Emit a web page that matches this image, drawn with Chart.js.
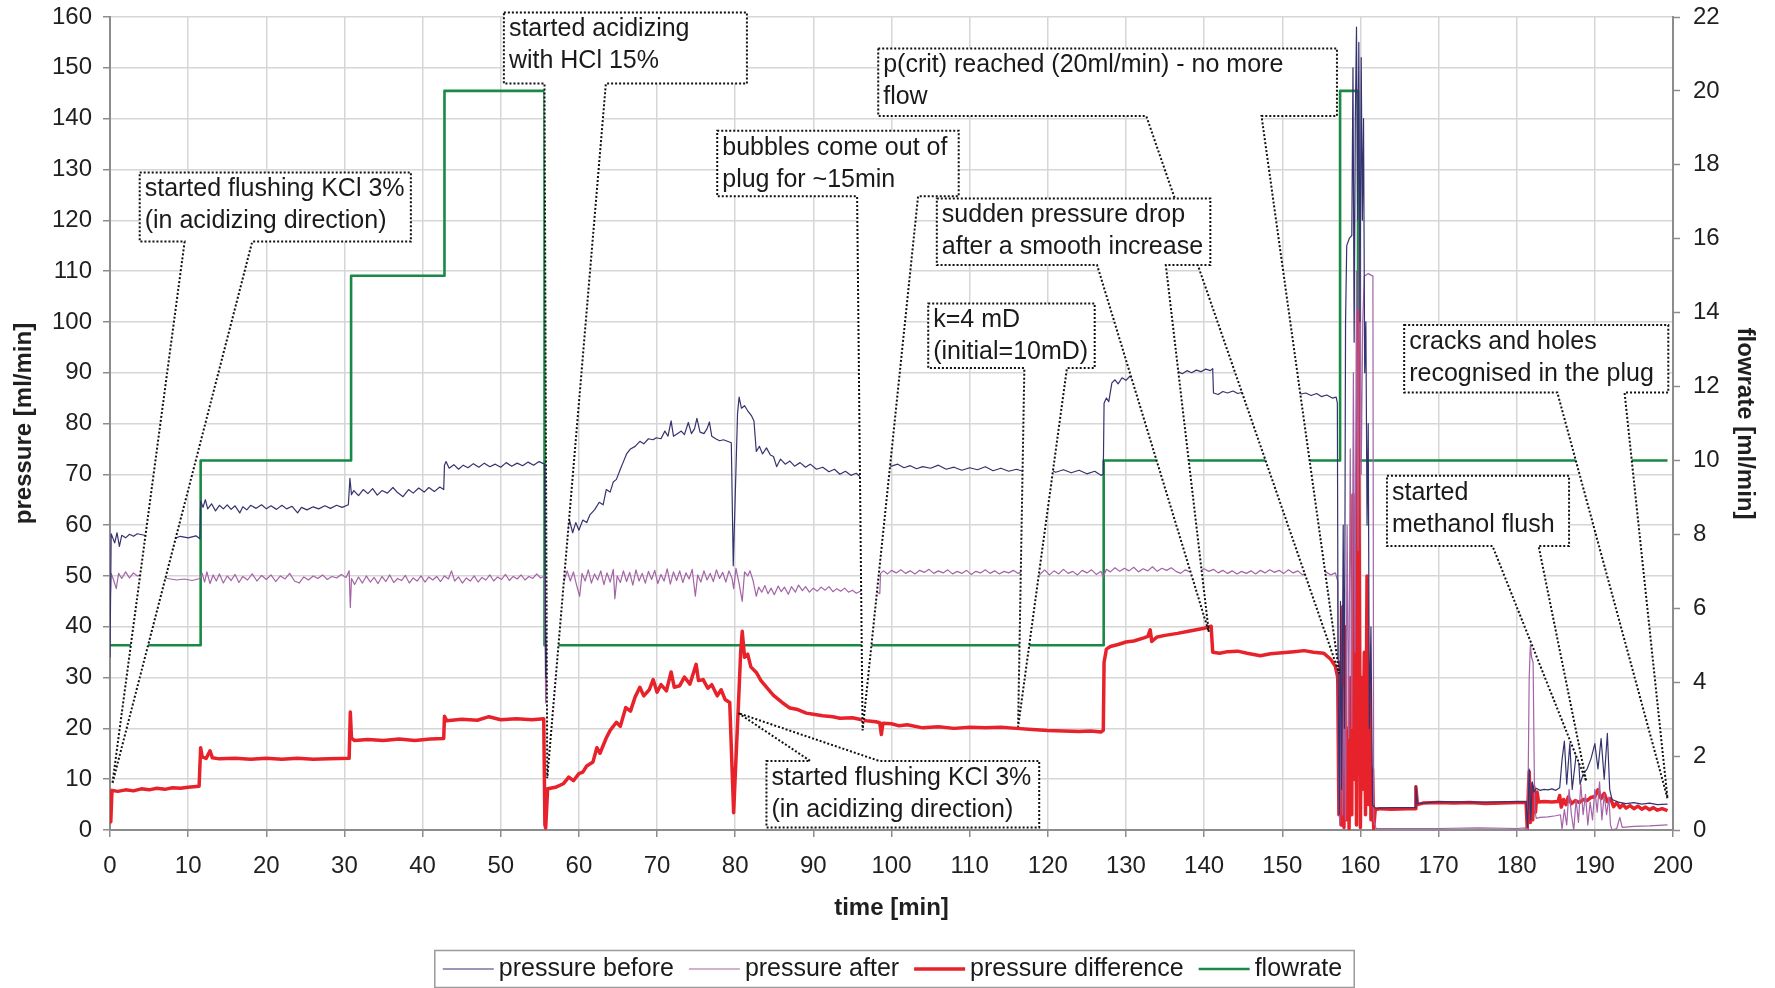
<!DOCTYPE html>
<html>
<head>
<meta charset="utf-8">
<script src="https://cdn.jsdelivr.net/npm/chart.js@4/dist/chart.umd.min.js"></script>
<style>
  body { margin: 0; background: #fff; }
  canvas { display: block; }
</style>
</head>
<body>
<canvas id="acidChart" width="1775" height="988"></canvas>
<script>
// time [min] / value pairs
const pressureBefore = [
  [0,34],[0.15,58.3],[0.6,56.5],[0.9,58.5],[1.2,55.8],[1.5,58],[2,57.5],[2.5,58.2],[3,57.8],[3.5,58.3],[4.4,58],
  [5,57.6],[6,57.8],[7,57.5],[8.3,57.4],[9,57.8],[10,57.5],[11,57.9],[11.5,57.3],[11.6,64.8],[11.9,63.5],[12.2,65],
  [12.5,63.2],[13,64.2],[13.5,62.8],[14,63.9],[14.5,63.2],[15,64],[15.5,63.1],[16,63.8],[16.6,62.4],[17,63.6],
  [17.5,63],[18,63.9],[18.7,63.3],[19.4,64],[20,63.2],[20.6,63.8],[21.3,63.1],[22,63.9],[22.6,63.2],[23.3,63.7],
  [24,62.4],[24.5,63.5],[25.2,63],[26,63.6],[26.7,63.2],[27.5,63.8],[28.2,63.3],[29,63.9],[29.7,63.5],[30.5,64],
  [30.7,69.2],[30.9,66],[31.2,66.8],[31.8,65.8],[32.4,67],[33,66.2],[33.6,67.2],[34.2,65.9],[34.8,66.8],[35.5,66.3],
  [36.2,67.4],[36.8,66.4],[37.5,65.6],[38.2,67],[38.8,66.3],[39.5,67.3],[40.2,66.5],[40.8,67.4],[41.5,66.6],
  [42.2,67.5],[42.7,67],[42.8,71.8],[43,72.5],[43.4,71.2],[44,71.9],[44.6,71],[45.2,71.8],[45.8,71.3],[46.5,72.1],
  [47.2,71.4],[47.9,72.2],[48.6,71.5],[49.3,72],[50,71.4],[50.7,72.3],[51.4,71.6],[52.1,72.2],[52.8,71.7],
  [53.5,72.4],[54.2,71.8],[54.9,72.5],[55.6,72],[55.75,30],[56.2,50],[56.8,57],[57.3,59.5],[57.6,58.5],[58,60],
  [58.4,58],[58.8,61],[59.2,58.5],[59.6,60.5],[60,59],[60.5,61],[61,60.5],[61.4,62],[62,63],[62.6,64.5],[63.1,64],
  [63.5,67],[64,66.5],[64.4,68.5],[64.8,69],[65.3,71],[65.7,72.5],[66.1,74],[66.6,75],[67.2,75.5],[67.8,76.5],
  [68.3,76],[68.9,77],[69.5,76.8],[69.9,77.2],[70.5,77],[71,78.5],[71.4,77.5],[71.8,80.5],[72.1,77.5],[72.6,78],
  [73.1,78.5],[73.5,77.8],[74,80.2],[74.4,78],[74.8,79],[75.1,81],[75.5,78.3],[76,78],[76.4,79],[76.7,80.3],
  [77,77.5],[77.5,77],[78,76.6],[78.5,76.8],[79,76.5],[79.5,76.2],[79.75,52],[79.9,60],[80.3,82],[80.5,85.2],
  [80.8,83],[81.2,83.5],[81.6,82.5],[82.1,81.5],[82.4,80.5],[82.7,74.5],[83.1,75.5],[83.5,74],[84,75.2],
  [84.5,73.8],[84.9,73.5],[85.3,71.5],[85.8,73],[86.4,72],[87,72.6],[87.6,71.6],[88.3,72.3],[89,71.4],[89.6,72],
  [90.4,71],[91.2,71.4],[92,70.5],[92.7,71],[93.4,70],[94.1,70.6],[94.8,69.8],[95.5,70.2],[96,69.5],[97,70.5],
  [98,72],[98.5,72.6],[99.2,71.8],[100,71.6],[100.8,72],[101.6,71.3],[102.4,71.7],[103.2,71.1],[104,71.5],
  [105,71.2],[106,71.8],[107,71],[108,71.4],[109,70.8],[110,71.3],[111,70.9],[112,71.5],[113,70.7],[114,71.2],
  [115,70.6],[116,71],[117,70.5],[118,71],[119,70.6],[120,71.2],[121,70.4],[122,70.9],[123,70.3],[124,70.8],
  [125,70.1],[126,70.6],[126.8,69.8],[127.1,70],[127.2,84],[127.5,85],[127.8,84.3],[128.2,88],[128.6,88.6],
  [129,87.8],[129.5,89],[130,88.5],[130.5,89.3],[131,88.7],[132,89],[133,89.2],[134,89.5],[135,89.8],[136,90],
  [136.6,90.3],[137.2,89.8],[137.8,90.4],[138.4,90],[139,90.5],[139.6,90.2],[140.2,90.7],[140.8,90.4],[141.1,90.8],
  [141.2,86],[141.8,85.7],[142.4,86.3],[143,86],[143.7,86.4],[144.3,85.9],[145,86.2],[146,85.8],[147,86.2],
  [148,86],[149,86.3],[150,86],[151,85.8],[151.7,86.3],[152.4,85.8],[153,86],[153.7,85.5],[154.4,85.9],[155,85.3],
  [155.7,85.6],[156.4,85],[156.9,85.2],[157.05,84],[157.15,30],[157.3,3],[157.45,45],[157.6,8],[157.8,60],
  [157.95,20],[158.1,100],[158.25,115],[158.6,116.5],[158.9,117],[159.05,150],[159.2,96],[159.35,140],[159.5,158],
  [159.65,120],[159.8,155],[159.95,100],[160.1,152],[160.25,120],[160.4,140],[160.55,90],[160.7,100],[160.85,60],
  [161,80],[161.15,20],[161.35,40],[161.55,5],[161.8,4.5],[162,4.3],[164,4.4],[166,4.4],[167,4.4],[167.1,8.7],
  [167.3,5.2],[170,5.6],[175,5.5],[180,5.6],[181.2,5.6],[181.4,0.5],[181.6,12],[181.8,2],[182,9.5],[182.2,7.5],
  [182.5,8.2],[183,7.8],[183.5,8],[184,7.9],[184.5,8.1],[185,7.8],[185.5,8.3],[185.8,13.8],[186.1,17.5],[186.4,9],
  [186.8,17],[187.1,8],[187.4,12],[187.8,17.5],[188.1,9],[188.5,11],[189,12],[189.5,14],[190,17],[190.4,12],
  [190.8,18],[191.2,10],[191.6,19],[191.9,8],[192.2,6],[193,5.5],[194,5.2],[195,5.4],[196,5.1],[197,5.3],
  [198,5],[199.3,5.1]
];

const pressureAfter = [
  [0,44],[0.15,50.5],[0.5,49],[0.8,47.5],[1.1,50.5],[1.5,49.5],[2,50.8],[2.5,49.6],[3,50.6],[3.5,50],[4.4,50.3],
  [5.5,49.8],[7,49.6],[8.5,49.2],[9.5,49.4],[10.5,49.1],[11.5,49.5],[11.8,50.5],[12.1,48.8],[12.4,50.8],
  [12.8,48.5],[13.2,50.2],[13.6,49],[14,50.4],[14.5,48.6],[15,50],[15.5,49.1],[16,50.3],[16.5,48.7],[17,49.9],
  [17.6,49.2],[18.2,50.4],[18.8,49],[19.4,50.1],[20,49.3],[20.6,50.2],[21.2,48.9],[21.8,50],[22.4,49.4],[23,50.5],
  [23.6,49],[24.2,48.6],[24.8,49.8],[25.4,49.2],[26,50],[26.6,49.5],[27.2,50.2],[27.8,49.3],[28.4,49.9],[29,49.6],
  [29.6,50.3],[30.2,49.7],[30.6,51],[30.75,43.8],[30.9,49.5],[31.3,48.3],[31.8,49.8],[32.3,48.6],[32.8,50],
  [33.3,48.8],[33.8,49.7],[34.3,48.5],[34.8,49.9],[35.3,48.9],[35.8,50.2],[36.3,48.7],[36.8,49.5],[37.3,49.1],
  [37.8,50.1],[38.3,48.6],[38.8,49.6],[39.3,49],[39.8,50],[40.3,48.8],[40.8,49.8],[41.3,49.2],[41.8,49.9],
  [42.3,48.9],[42.8,50],[43.3,49.4],[43.7,51],[44.1,49],[44.6,49.8],[45.1,48.6],[45.6,49.6],[46.1,49],[46.6,50],
  [47.1,48.8],[47.6,49.7],[48.1,49.2],[48.6,50.2],[49.1,49],[49.6,49.8],[50.1,49.3],[50.6,50.3],[51.1,49.1],
  [51.6,49.9],[52.1,49.4],[52.6,50.2],[53.1,49.2],[53.6,49.9],[54.1,49.5],[54.6,50.4],[55.1,49.6],[55.6,50],
  [55.75,25],[56.2,45],[56.8,49.5],[57.5,50.5],[58,48.5],[58.5,51],[58.9,49],[59.3,50.8],[59.7,48.2],[60.1,46],
  [60.4,50.5],[60.8,49],[61.2,51.2],[61.6,48.6],[62,50.4],[62.4,49.2],[62.8,51],[63.2,48.3],[63.6,50.6],[64,48.8],
  [64.4,51.3],[64.6,45.5],[64.9,50],[65.3,48.7],[65.7,51],[66.1,48.9],[66.5,50.7],[66.9,48.2],[67.3,51.2],[67.7,49],
  [68.1,50.5],[68.5,48.6],[68.9,50.9],[69.3,49.3],[69.7,51.1],[70.1,48.5],[70.5,50.3],[70.9,49],[71.3,51.4],
  [71.7,48.4],[72.1,50.8],[72.5,49.1],[72.9,51],[73.3,48.7],[73.7,50.6],[74.1,49.4],[74.5,51.3],[74.9,46],
  [75.2,50.2],[75.6,48.8],[76,51],[76.4,49.2],[76.8,50.5],[77.2,48.9],[77.6,51.2],[78,49.5],[78.4,50.7],[78.8,48.8],
  [79.2,51],[79.6,49.5],[79.8,47.5],[80.1,51.5],[80.5,48.5],[80.9,45],[81.2,50.8],[81.6,50],[81.9,51],[82.3,49],
  [82.7,46],[83,47.8],[83.4,46.8],[83.8,48.1],[84.2,46.5],[84.6,47.6],[85,46.3],[85.5,48],[85.9,46.9],[86.3,47.8],
  [86.8,46.4],[87.2,47.9],[87.7,46.8],[88.1,48.2],[88.6,47.1],[89,47.9],[89.5,46.8],[90,47.6],[90.5,47],[91,47.8],
  [91.5,47.2],[92,47.9],[92.5,46.9],[93,47.5],[93.5,47],[94,47.6],[94.5,46.8],[95,47.2],[95.5,46.6],[96,47],
  [97,46.8],[98,47],[98.5,46.5],[98.6,50.5],[99,51],[99.5,50.4],[100,51.1],[100.6,50.6],[101.2,51.2],[101.8,50.5],
  [102.4,51],[103,50.4],[103.6,51.1],[104.2,50.7],[104.8,51.3],[105.4,50.5],[106,51],[106.6,50.6],[107.2,51.2],
  [107.8,50.4],[108.4,50.9],[109,50.5],[109.6,51.1],[110.2,50.3],[110.8,50.9],[111.4,50.6],[112,51.2],[112.6,50.5],
  [113.2,51],[113.8,50.4],[114.4,50.9],[115,50.6],[115.6,51.1],[116.2,50.5],[117,51],[118,50.6],[119,50.3],
  [119.6,51.2],[120.2,50.2],[120.8,51],[121.4,50.4],[122,51.3],[122.6,50.5],[123.2,50.9],[123.8,50.2],[124.4,51.1],
  [125,50.6],[125.6,51.2],[126.2,50.3],[126.8,50.9],[127.1,49.8],[127.5,51.3],[128,50.8],[128.6,51.6],[129.2,50.9],
  [129.8,51.5],[130.4,51],[131,51.7],[131.6,50.8],[132.2,51.4],[132.8,51],[133.4,51.8],[134,50.9],[134.6,51.5],
  [135.2,51.1],[135.8,51.6],[136.4,50.9],[137,50.5],[137.6,51.2],[138.2,50.8],[138.8,51.5],[139.4,51],[140,51.4],
  [140.6,50.9],[141.2,51.3],[141.8,50.6],[142.4,51.1],[143,50.5],[143.6,51],[144.2,50.4],[144.8,50.9],[145.4,50.5],
  [146,51],[146.6,50.4],[147.2,51.1],[147.8,50.6],[148.4,51.2],[149,50.7],[149.6,51.1],[150.2,50.5],[150.8,51.2],
  [151.4,50.6],[152,51],[152.6,50.2],[153.2,50.8],[153.8,50.4],[154.4,50.9],[155,50.3],[155.6,50.8],[156.2,50.2],
  [156.8,50.6],[157.1,49],[157.2,10],[157.35,1],[157.5,35],[157.7,3],[157.9,28],[158.1,2],[158.3,60],[158.5,18],
  [158.7,75],[158.9,20],[159.1,90],[159.3,35],[159.5,110],[159.7,55],[159.9,128],[160.1,70],[160.3,100],
  [160.5,109],[161,109.5],[161.6,109],[161.7,2],[162,0.3],[165,0.3],[170,0.3],[175,0.4],[180,0.3],[181.2,0.4],
  [181.4,0],[181.6,30],[181.75,36.5],[181.9,34],[182.1,33],[182.3,4],[182.5,2.3],[183,2.5],[184,2.6],[185,2.8],
  [185.6,3],[185.8,0.2],[186.1,4],[186.4,1],[186.7,8],[187,3],[187.3,0],[187.6,6],[187.9,1.5],[188.2,9],[188.5,3],
  [188.8,7],[189.1,1],[189.4,5.5],[189.7,2],[190,8],[190.3,3.5],[190.6,9.5],[190.9,2],[191.2,7],[191.5,3],
  [191.8,6.5],[192,1],[192.2,0],[192.8,0.3],[193.2,2.5],[193.5,0.5],[195,0.7],[197,0.8],[199.3,1]
];

const pressureDifference = [
  [0,3],[0.1,1.6],[0.25,7.8],[1,7.6],[2,7.9],[3,7.7],[4,8.1],[5,7.9],[6,8.2],[7,8],[8,8.3],[9,8.2],[10,8.4],
  [11.4,8.6],[11.6,16.2],[11.8,14.4],[12.3,14.1],[12.8,15.6],[13.1,14.2],[14,14],[16,14.1],[18,13.9],[20,14.1],
  [22,13.9],[24,14.1],[26,13.9],[28,14],[30.6,14.1],[30.75,23.2],[30.9,18.1],[31.3,17.6],[33,17.8],[35,17.6],
  [37,17.9],[39,17.6],[41,17.9],[42.7,18],[42.8,22.4],[43.1,21.5],[45,21.8],[47,21.6],[48.5,22.3],[50,21.7],
  [52,21.9],[54,21.7],[55.5,21.9],[55.65,1],[55.75,0.4],[56,8.1],[57,8.4],[58,9.1],[58.7,10.4],[59.3,9.7],
  [60,11.1],[60.5,11.4],[61,12.6],[61.8,13.4],[62.3,16.2],[62.7,15.1],[63.5,18.1],[64,19.6],[64.8,21.2],
  [65.3,20.4],[66,24.1],[66.6,23.4],[67.2,26.2],[67.8,28.1],[68.3,26.4],[69,27.6],[69.5,29.6],[70,27.1],
  [70.5,28.6],[71.2,27.4],[71.8,31.1],[72.2,28.1],[72.9,28.4],[73.5,30.1],[74.2,28.7],[75,32.6],[75.3,29.4],
  [75.9,29.6],[76.5,27.9],[77,28.6],[77.7,26.4],[78.2,27.6],[78.7,25.7],[79.3,25.1],[79.6,12],[79.8,3.4],
  [80.1,14],[80.4,24.2],[80.7,35],[80.9,39.1],[81.2,34],[81.6,34.6],[82,32.1],[82.7,31],[83.3,29.4],[84,28.1],
  [84.9,26.5],[86,25.1],[87,24],[88,23.7],[89.1,23],[90,22.8],[91.2,22.5],[92.5,22.3],[93.4,22],[95,22.1],
  [96.8,21.5],[98,21.3],[98.5,21.1],[98.7,18.8],[98.9,21],[100,20.9],[101,20.5],[102,20.7],[104,20.1],
  [106,20.3],[108,20],[110,20.2],[112,20.1],[114,20.2],[116,20],[118,19.8],[120,19.6],[122,19.5],[124,19.4],
  [125.5,19.5],[126.8,19.3],[127.1,19.6],[127.2,33],[127.5,35.6],[128,36.1],[129,36.5],[130,37],[131,37.2],
  [132.3,37.8],[132.8,38.1],[133.1,39.4],[133.3,37.1],[134,38],[135,38.3],[136.6,38.7],[138,39.1],[139,39.4],
  [140,39.7],[140.9,40.1],[141.1,35],[142,34.8],[143,35.1],[144.3,35.2],[145.5,34.8],[147.2,34.3],[148.5,34.7],
  [150,34.9],[151.5,35.1],[152.8,35.3],[154,35],[155.3,34.8],[156.2,33.6],[156.8,32.2],[157.1,30],[157.25,3],
  [157.4,33],[157.55,1],[157.75,44],[157.9,0.5],[158.05,40],[158.2,2],[158.4,20],[158.55,0.3],[158.75,30],
  [158.9,3],[159.05,66],[159.2,10],[159.35,60],[159.5,1],[159.7,102],[159.85,55],[160,0.5],[160.15,30],[160.3,8],
  [160.5,35],[160.65,3],[160.85,50],[161,5],[161.2,30],[161.35,2],[161.55,12],[161.7,0.3],[161.9,4],[162.5,4.2],
  [164,4.1],[166,4.2],[167,4.2],[167.1,8.5],[167.3,5],[168,5.3],[170,5.4],[172,5.3],[174,5.4],[176,5.2],[178,5.3],
  [180,5.4],[181.2,5.4],[181.35,0.3],[181.5,8],[181.6,11.5],[181.75,1.5],[181.9,9],[182.05,2],[182.2,8.5],
  [182.4,3.5],[182.6,7.5],[182.8,5.5],[183.5,5.6],[184.5,5.5],[185.3,5.6],[185.5,6.8],[185.7,4.5],[186,6],
  [186.3,5],[186.6,6.5],[187,5.2],[187.5,5.8],[188,5.4],[188.5,6],[189,5.8],[189.5,6.4],[190,6.6],[190.4,7.9],
  [190.8,6.2],[191.2,7.2],[191.6,5.6],[192,6.2],[192.4,4.6],[192.8,5.4],[193.2,4.4],[193.6,5],[194,4.3],
  [194.5,4.8],[195,4.2],[195.5,4.7],[196,4.1],[196.5,4.5],[197,4],[197.5,4.4],[198,3.9],[198.6,4.2],[199.3,3.8]
];

// flowrate [ml/min], right axis
const flowrate = [
  [0,5],[11.6,5],[11.6,10],[30.85,10],[30.85,15],[42.8,15],[42.8,20],[55.6,20],[55.6,5],[127.15,5],
  [127.15,10],[157.4,10],[157.4,20],[159.7,20],[159.7,10],[199.3,10]
];

const seriesNames = ['pressure before', 'pressure after', 'pressure difference', 'flowrate'];

// callouts: box [t0, t1, pTop, pBottom], tail gap on one edge, tip point (data units)
const callouts = [
  { text: ['started flushing KCl 3%', '(in acidizing direction)'], box: [3.8, 38.5, 129.4, 115.8], side: 'bottom', gap: [9.55, 18.2], tip: [0.3, 9.1] },
  { text: ['started acidizing', 'with HCl 15%'], box: [50.4, 81.5, 160.9, 146.9], side: 'bottom', gap: [55.6, 63.45], tip: [55.95, 10.2] },
  { text: ['bubbles come out of', 'plug for ~15min'], box: [77.7, 108.6, 137.6, 124.7], side: 'bottom', gap: [95.6, 103.4], tip: [96.3, 19.6] },
  { text: ['p(crit) reached (20ml/min) - no more', 'flow'], box: [98.3, 157.0, 153.8, 140.5], side: 'bottom', gap: [132.6, 147.35], tip: [157.3, 30.8] },
  { text: ['sudden pressure drop', 'after a smooth increase'], box: [105.8, 140.8, 124.3, 111.2], side: 'bottom', gap: [126.3, 135.1], tip: [140.6, 39] },
  { text: ['k=4 mD', '(initial=10mD)'], box: [104.7, 126.0, 103.6, 90.9], side: 'bottom', gap: [117.0, 122.45], tip: [116.2, 20.3] },
  { text: ['started flushing KCl 3%', '(in acidizing direction)'], box: [84.0, 118.9, 13.6, 0.5], side: 'top', gap: [89.6, 98.4], tip: [80.4, 23] },
  { text: ['cracks and holes', 'recognised in the plug'], box: [165.6, 199.4, 99.4, 86.1], side: 'bottom', gap: [185.2, 193.8], tip: [199.3, 6.2] },
  { text: ['started', 'methanol flush'], box: [163.4, 186.7, 69.7, 55.9], side: 'bottom', gap: [176.9, 182.8], tip: [188.9, 9.6] }
];

const FONT = "'Liberation Sans', Arial, sans-serif";
const toPoints = arr => arr.map(([x, y]) => ({ x, y }));

// dotted Excel-style callouts, drawn over the lines
const calloutPlugin = {
  id: 'callouts',
  afterDatasetsDraw(chart) {
    const { ctx } = chart;
    const x = chart.scales.x, y = chart.scales.y;
    ctx.save();
    ctx.font = '25px ' + FONT;
    callouts.forEach(c => {
      const L = x.getPixelForValue(c.box[0]), R = x.getPixelForValue(c.box[1]);
      const T = y.getPixelForValue(c.box[2]), B = y.getPixelForValue(c.box[3]);
      const ga = x.getPixelForValue(c.gap[0]), gb = x.getPixelForValue(c.gap[1]);
      const tx = x.getPixelForValue(c.tip[0]), ty = y.getPixelForValue(c.tip[1]);
      ctx.beginPath();
      ctx.moveTo(L, T);
      if (c.side === 'top') { ctx.lineTo(ga, T); ctx.lineTo(tx, ty); ctx.lineTo(gb, T); }
      ctx.lineTo(R, T);
      ctx.lineTo(R, B);
      if (c.side === 'bottom') { ctx.lineTo(gb, B); ctx.lineTo(tx, ty); ctx.lineTo(ga, B); }
      ctx.lineTo(L, B);
      ctx.closePath();
      ctx.fillStyle = '#fff';
      ctx.fill();
      ctx.setLineDash([2, 2]);
      ctx.lineWidth = 2;
      ctx.strokeStyle = '#111';
      ctx.stroke();
      ctx.setLineDash([]);
      ctx.fillStyle = '#1a1a1a';
      ctx.textBaseline = 'middle';
      ctx.textAlign = 'left';
      c.text.forEach((s, i) => ctx.fillText(s, L + 5, T + 17 + i * 32));
    });
    ctx.restore();
  }
};

// legend in a framed box under the axis title
const boxLegend = {
  id: 'boxLegend',
  afterDraw(chart) {
    const { ctx, chartArea } = chart;
    const sets = chart.data.datasets;
    ctx.save();
    ctx.font = '25px ' + FONT;
    const lineLen = 51, gapText = 5, gapItem = 15;
    const widths = sets.map(ds => ctx.measureText(ds.label).width);
    const total = widths.reduce((s, w) => s + lineLen + gapText + w, 0) + gapItem * (sets.length - 1);
    let px = (chartArea.left + chartArea.right) / 2 + 1 - total / 2;
    const top = chart.height - 38, midY = top + 19;
    ctx.strokeStyle = '#9a9a9a';
    ctx.lineWidth = 1.5;
    ctx.strokeRect(px - 8, top + 0.5, total + 20, 37);
    sets.forEach((ds, i) => {
      ctx.beginPath();
      ctx.moveTo(px, midY);
      ctx.lineTo(px + lineLen, midY);
      ctx.strokeStyle = ds.borderColor;
      ctx.lineWidth = ds.borderWidth;
      ctx.stroke();
      px += lineLen + gapText;
      ctx.fillStyle = '#1a1a1a';
      ctx.textBaseline = 'middle';
      ctx.fillText(ds.label, px, midY);
      px += widths[i] + gapItem;
    });
    ctx.restore();
  }
};

const gridColor = '#d6d6d6', axisColor = '#8c8c8c', textColor = '#1f1f1f';

// keep vertical axes from pushing the plot top down
function fixVertical(width) {
  return scale => {
    scale.width = width;
    scale.paddingTop = 10;
    scale.paddingBottom = 10;
  };
}

new Chart('acidChart', {
  type: 'line',
  data: {
    datasets: [{
      label: seriesNames[0],
      data: toPoints(pressureBefore),
      borderColor: '#35336f',
      borderWidth: 1.2,
      yAxisID: 'y'
    }, {
      label: seriesNames[1],
      data: toPoints(pressureAfter),
      borderColor: '#a463a6',
      borderWidth: 1.2,
      yAxisID: 'y'
    }, {
      label: seriesNames[2],
      data: toPoints(pressureDifference),
      borderColor: '#e8222b',
      borderWidth: 3.5,
      yAxisID: 'y'
    }, {
      label: seriesNames[3],
      data: toPoints(flowrate),
      borderColor: '#198a45',
      borderWidth: 2.6,
      yAxisID: 'y1'
    }]
  },
  options: {
    responsive: false,
    animation: false,
    events: [],
    elements: {
      point: { radius: 0 },
      line: { tension: 0, fill: false, borderJoinStyle: 'round' }
    },
    layout: { padding: { top: 17, bottom: 58, left: 0, right: 0 } },
    plugins: {
      legend: { display: false },
      tooltip: { enabled: false }
    },
    scales: {
      x: {
        type: 'linear',
        min: 0,
        max: 200,
        ticks: { stepSize: 10, autoSkip: false, maxRotation: 0, padding: 15, color: textColor, font: { size: 24, family: FONT } },
        grid: { color: gridColor, lineWidth: 1.5, tickLength: 7, tickColor: axisColor, tickWidth: 1.5 },
        border: { color: axisColor, width: 2 },
        title: { display: true, text: 'time [min]', color: textColor, font: { size: 24, weight: 'bold', family: FONT }, padding: { top: 0, bottom: 7 } },
        afterFit(scale) { scale.height = 100; }
      },
      y: {
        position: 'left',
        min: 0,
        max: 160,
        ticks: { stepSize: 10, padding: 11, color: textColor, font: { size: 24, family: FONT } },
        grid: { color: gridColor, lineWidth: 1.5, tickLength: 7, tickColor: axisColor, tickWidth: 1.5 },
        border: { color: axisColor, width: 2 },
        title: { display: true, text: 'pressure [ml/min]', color: textColor, font: { size: 24, weight: 'bold', family: FONT }, padding: { top: 10, bottom: 0 } },
        afterFit: fixVertical(110)
      },
      y1: {
        position: 'right',
        min: 0,
        max: 22,
        ticks: { stepSize: 2, padding: 13, color: textColor, font: { size: 24, family: FONT } },
        grid: { drawOnChartArea: false, tickLength: 7, tickColor: axisColor, tickWidth: 1.5 },
        border: { color: axisColor, width: 2 },
        title: { display: true, text: 'flowrate [ml/min]', color: textColor, font: { size: 24, weight: 'bold', family: FONT }, padding: { top: 16, bottom: 0 } },
        afterFit: fixVertical(102)
      }
    }
  },
  plugins: [calloutPlugin, boxLegend]
});
</script>
</body>
</html>
